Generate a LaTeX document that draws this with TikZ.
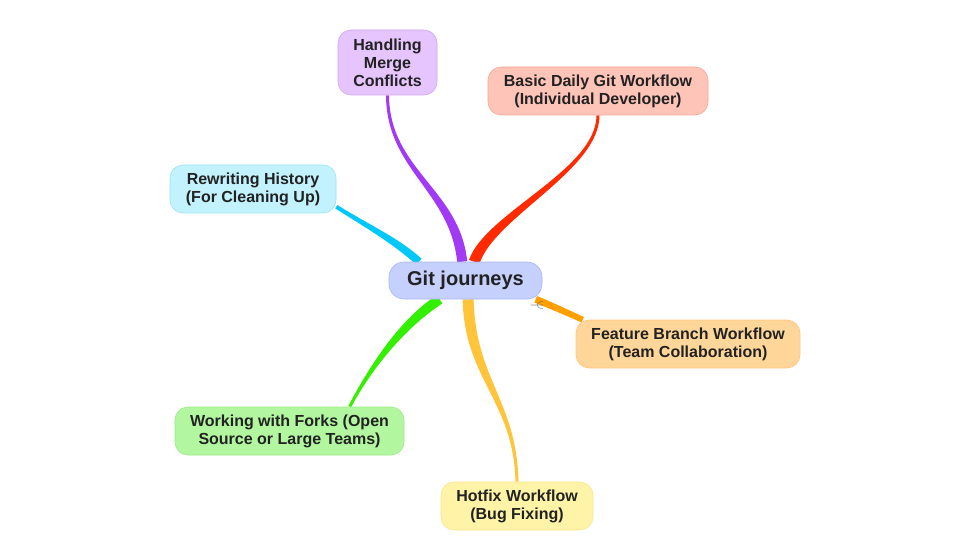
\documentclass[tikz,border=0pt]{standalone}
\usepackage{fontspec}
\setmainfont{Liberation Sans}
\usepackage{tikz}
\usetikzlibrary{calc,backgrounds}

\definecolor{txt}{HTML}{222222}
\definecolor{gitfill}{HTML}{C6D0FD}
\definecolor{gitline}{HTML}{A9B7F7}
\definecolor{mergefill}{HTML}{E6C4FD}
\definecolor{mergeline}{HTML}{D3A6F8}
\definecolor{basicfill}{HTML}{FFC4B8}
\definecolor{basicline}{HTML}{F5A796}
\definecolor{rewritefill}{HTML}{C2F2FD}
\definecolor{rewriteline}{HTML}{9EE2F5}
\definecolor{featurefill}{HTML}{FFD699}
\definecolor{featureline}{HTML}{FFC680}
\definecolor{forksfill}{HTML}{B2F7A0}
\definecolor{forksline}{HTML}{9AEB84}
\definecolor{hotfixfill}{HTML}{FFF3A8}
\definecolor{hotfixline}{HTML}{F9E78C}
\definecolor{brpurple}{HTML}{A23AF5}
\definecolor{brred}{HTML}{FF2A00}
\definecolor{brcyan}{HTML}{00C8F8}
\definecolor{brorange}{HTML}{FFA000}
\definecolor{bryellow}{HTML}{FFC43A}
\definecolor{brgreen}{HTML}{33F000}

% tapered branch: colour, start, control 1, control 2, end, half width at start, half width at end
\newcommand{\taper}[7]{%
  \fill[#1] ($(#2)!#6!90:(#3)$) .. controls ($(#3)!#6!-90:(#2)$) and ($(#4)!#7!90:(#5)$) .. ($(#5)!#7!-90:(#4)$)
    -- ($(#5)!#7!90:(#4)$) .. controls ($(#4)!#7!-90:(#5)$) and ($(#3)!#6!90:(#2)$) .. ($(#2)!#6!-90:(#3)$) -- cycle;}

\begin{document}
\begin{tikzpicture}[x=1pt, y=-1pt,
    topic/.style={rounded corners=13pt, line width=0.6pt, align=center, inner sep=0pt,
                  minimum height=48pt, text=txt, font=\bfseries\fontsize{16}{18}\selectfont},
    root/.style={topic, minimum height=37pt, minimum width=153pt, rounded corners=15pt,
                 fill=gitfill, draw=gitline, font=\bfseries\fontsize{20}{23}\selectfont}]
    \useasboundingbox (0,0) rectangle (953,556);

    \node[root] (git) at (465.5,280.5) {Git journeys};
    \node[topic, fill=mergefill, draw=mergeline, minimum width=99pt, minimum height=65pt] (merge) at (387.5,62.5) {Handling\\Merge\\Conflicts};
    \node[topic, fill=basicfill, draw=basicline, minimum width=220pt] (basic) at (598,91) {Basic Daily Git Workflow\\(Individual Developer)};
    \node[topic, fill=rewritefill, draw=rewriteline, minimum width=166pt] (rewrite) at (253,189) {Rewriting History\\(For Cleaning Up)};
    \node[topic, fill=featurefill, draw=featureline, minimum width=224pt] (feature) at (688,344) {Feature Branch Workflow\\(Team Collaboration)};
    \node[topic, fill=forksfill, draw=forksline, minimum width=229pt] (forks) at (289.5,431) {Working with Forks (Open\\Source or Large Teams)};
    \node[topic, fill=hotfixfill, draw=hotfixline, minimum width=152pt] (hotfix) at (517,506) {Hotfix Workflow\\(Bug Fixing)};
    \node[text=black!65, font=\fontsize{13}{13}\selectfont, inner sep=0pt] (fold) at (537,305) {$-\!\!\!\in$};

    \begin{scope}[on background layer]
      \fill[white] (0,0) rectangle (953,556);
      \taper{brpurple}{git.100}{455,190}{388,170}{merge.south}{5pt}{1.5pt}
      \taper{brred}{git.65}{490,215}{598,170}{basic.south}{5.5pt}{1.5pt}
      \taper{brcyan}{git.158}{395,240}{365,225}{rewrite.-12}{4pt}{2pt}
      \taper{brorange}{git.-15}{550,305}{570,314}{feature.167}{3.5pt}{3pt}
      \taper{bryellow}{git.-82}{470,380}{515,400}{hotfix.north}{5.5pt}{1.5pt}
      \taper{brgreen}{git.-144}{400,325}{368,372}{forks.22}{5pt}{1.5pt}
    \end{scope}
  \end{tikzpicture}
\end{document}
